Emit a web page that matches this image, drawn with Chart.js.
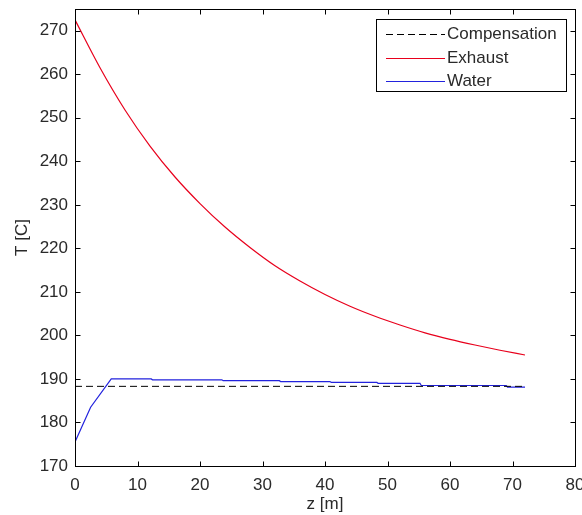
<!DOCTYPE html>
<html>
<head>
<meta charset="utf-8">
<script src="https://cdn.jsdelivr.net/npm/chart.js@4"></script>
<style>
  body { margin: 0; background: #fff; }
  canvas { display: block; }
</style>
</head>
<body>
<canvas id="chart" width="582" height="515"></canvas>
<script>
// values
const zExhaust = [0, 4, 8, 12, 16, 20, 24, 28, 32, 36, 40, 44, 48, 52, 56, 60, 64, 68, 72];
const tExhaust = [272.5, 261.5, 251.8, 243.5, 236.4, 230.3, 224.9, 220.2, 216.0, 212.5, 209.4, 206.7, 204.4, 202.4, 200.6, 199.1, 197.8, 196.6, 195.5];

const zWater = [0, 2.5, 5.8, 12.2, 12.4, 23.5, 23.7, 32.7, 32.9, 40.8, 41, 48.3, 48.5, 55.2, 55.4, 69, 69.2, 72];
const tWater = [175.5, 183.5, 190.0, 190.0, 189.8, 189.8, 189.6, 189.6, 189.4, 189.4, 189.2, 189.2, 189.0, 189.0, 188.5, 188.5, 188.1, 188.1];

const zComp = [0, 72];
const tComp = [188.3, 188.3];

const xTicks = [0, 10, 20, 30, 40, 50, 60, 70, 80];
const yTicks = [170, 180, 190, 200, 210, 220, 230, 240, 250, 260, 270];

const FONT = 'Arial, "Liberation Sans", sans-serif';
const TEXT = '#2a2a2a';

function pts(xs, ys) {
  return xs.map((x, i) => ({ x: x, y: ys[i] }));
}

// MATLAB style frame, inward ticks on all sides, boxed legend
const matlabFrame = {
  id: 'matlabFrame',
  afterDraw(chart) {
    const ctx = chart.ctx;
    const a = chart.chartArea;
    const xs = chart.scales.x, ys = chart.scales.y;
    const L = Math.round(a.left) + 0.5, R = Math.round(a.right) + 0.5;
    const T = Math.round(a.top) + 0.5, B = Math.round(a.bottom) + 0.5;
    ctx.save();
    ctx.strokeStyle = '#000';
    ctx.lineWidth = 1;
    ctx.strokeRect(L, T, R - L, B - T);
    ctx.beginPath();
    xTicks.forEach(v => {
      const p = Math.round(xs.getPixelForValue(v)) + 0.5;
      ctx.moveTo(p, B); ctx.lineTo(p, B - 5);
      ctx.moveTo(p, T); ctx.lineTo(p, T + 5);
    });
    yTicks.forEach(v => {
      const p = Math.round(ys.getPixelForValue(v)) + 0.5;
      ctx.moveTo(L, p); ctx.lineTo(L + 5, p);
      ctx.moveTo(R, p); ctx.lineTo(R - 5, p);
    });
    ctx.stroke();

    // legend
    const bx = 376.5, by = 19.5, bw = 190, bh = 72;
    ctx.fillStyle = '#fff';
    ctx.fillRect(bx, by, bw, bh);
    ctx.strokeRect(bx, by, bw, bh);
    const rows = [34, 58, 81];
    chart.data.datasets.forEach((ds, i) => {
      const y = rows[i] + 0.5;
      ctx.beginPath();
      ctx.strokeStyle = ds.borderColor;
      ctx.lineWidth = ds.borderWidth;
      ctx.setLineDash(ds.borderDash || []);
      ctx.moveTo(386, y); ctx.lineTo(445, y);
      ctx.stroke();
      ctx.setLineDash([]);
      ctx.fillStyle = TEXT;
      ctx.font = '17px ' + FONT;
      ctx.textBaseline = 'middle';
      ctx.textAlign = 'left';
      ctx.fillText(ds.label, 447, rows[i]);
    });
    ctx.restore();
  }
};

new Chart(document.getElementById('chart'), {
  type: 'line',
  data: {
    datasets: [
      {
        label: 'Compensation',
        data: pts(zComp, tComp),
        borderColor: '#000',
        borderWidth: 1,
        borderDash: [7, 4],
        pointRadius: 0
      },
      {
        label: 'Exhaust',
        data: pts(zExhaust, tExhaust),
        borderColor: '#e8001c',
        borderWidth: 1.2,
        cubicInterpolationMode: 'monotone',
        pointRadius: 0
      },
      {
        label: 'Water',
        data: pts(zWater, tWater),
        borderColor: '#2222dd',
        borderWidth: 1.2,
        pointRadius: 0
      }
    ]
  },
  options: {
    responsive: false,
    devicePixelRatio: 1,
    animation: false,
    layout: { padding: { left: 0, right: 7, top: 9, bottom: 0 } },
    plugins: {
      legend: { display: false },
      tooltip: { enabled: false }
    },
    scales: {
      x: {
        type: 'linear',
        min: 0,
        max: 80,
        afterBuildTicks(scale) { scale.ticks = xTicks.map(v => ({ value: v })); },
        afterFit(scale) { scale.height = 49; scale.paddingLeft = 0; scale.paddingRight = 0; },
        grid: { display: false, drawTicks: false },
        border: { display: false },
        ticks: { color: TEXT, font: { family: FONT, size: 17 }, padding: 9, maxRotation: 0 },
        title: { display: true, text: 'z [m]', color: TEXT, font: { family: FONT, size: 17 }, padding: { top: 0, bottom: 0 } }
      },
      y: {
        type: 'linear',
        min: 170,
        max: 275,
        afterBuildTicks(scale) { scale.ticks = yTicks.map(v => ({ value: v })); },
        afterFit(scale) { scale.width = 75; scale.paddingTop = 0; scale.paddingBottom = 0; },
        grid: { display: false, drawTicks: false },
        border: { display: false },
        ticks: { color: TEXT, font: { family: FONT, size: 17 }, padding: 7 },
        title: { display: true, text: 'T [C]', color: TEXT, font: { family: FONT, size: 17 }, padding: { top: 12, bottom: 0 } }
      }
    }
  },
  plugins: [matlabFrame]
});
</script>
</body>
</html>
